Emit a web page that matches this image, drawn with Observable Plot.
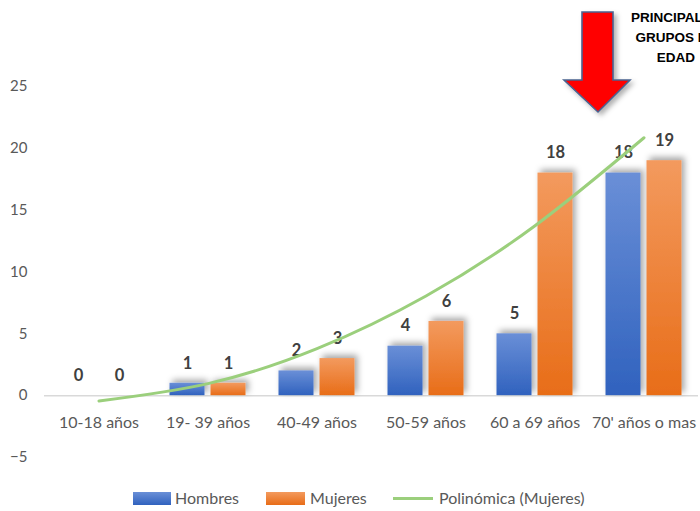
<!DOCTYPE html>
<html>
<head>
<meta charset="utf-8">
<script src="https://cdn.jsdelivr.net/npm/d3@7"></script>
<script src="https://cdn.jsdelivr.net/npm/@observablehq/plot@0.6"></script>
<style>
  body { margin: 0; background: #fff; overflow: hidden; width: 700px; height: 511px; position: relative; font-family: Lato, "Open Sans", sans-serif; }
  #chart { position: absolute; left: 0; top: 0; }
  #flecha { position: absolute; left: 0; top: 0; pointer-events: none; }
  .nota { position: absolute; left: 606px; top: 8px; width: 140px; text-align: center;
          font: bold 13.5px "Liberation Sans", Arial, sans-serif; line-height: 20px; color: #000; }
  .ley { position: absolute; }
  .ley-txt { position: absolute; top: 489px; font-size: 16px; line-height: 18px; color: #595959; white-space: nowrap; }
</style>
</head>
<body>
<div id="chart"></div>

<svg id="flecha" width="700" height="130">
  <defs>
    <filter id="sombraFlecha" x="-30%" y="-30%" width="160%" height="160%">
      <feDropShadow dx="3" dy="3" stdDeviation="2.5" flood-color="#000" flood-opacity="0.3"/>
    </filter>
  </defs>
  <polygon points="582,12 613,12 613,80 630,80 598,112 564,80 582,80"
           fill="#ff0000" stroke="#4a6390" stroke-width="1.6" stroke-linejoin="miter" filter="url(#sombraFlecha)"/>
</svg>
<div class="nota">PRINCIPALES<br>GRUPOS DE<br>EDAD</div>

<div class="ley" style="left:133px; top:492px; width:38px; height:13px; background:linear-gradient(#6a8fd7,#3062be);"></div>
<div class="ley-txt" style="left:175px;">Hombres</div>
<div class="ley" style="left:266px; top:492px; width:39px; height:13px; background:linear-gradient(#f39a5e,#e86d18);"></div>
<div class="ley-txt" style="left:310px;">Mujeres</div>
<div class="ley" style="left:393px; top:497px; width:40px; height:3px; background:#9bcf7c;"></div>
<div class="ley-txt" style="left:439px;">Polinómica (Mujeres)</div>

<script>
// Age groups and number of cases per sex
const categorias = ["10-18 años", "19- 39 años", "40-49 años", "50-59 años", "60 a 69 años", "70' años o mas"];
const hombres = [0, 1, 2, 4, 5, 18];
const mujeres = [0, 1, 3, 6, 18, 19];
const yTicks = [-5, 0, 5, 10, 15, 20, 25];

// Second-order least-squares trendline over the Mujeres series (x = 1..n)
function ajusteCuadratico(ys) {
  const xs = ys.map((_, i) => i + 1);
  const S = k => d3.sum(xs, x => x ** k);
  const T = k => d3.sum(xs, (x, i) => x ** k * ys[i]);
  const A = [[S(0), S(1), S(2)], [S(1), S(2), S(3)], [S(2), S(3), S(4)]];
  const b = [T(0), T(1), T(2)];
  const det = m => m[0][0] * (m[1][1] * m[2][2] - m[1][2] * m[2][1])
                 - m[0][1] * (m[1][0] * m[2][2] - m[1][2] * m[2][0])
                 + m[0][2] * (m[1][0] * m[2][1] - m[1][1] * m[2][0]);
  const D = det(A);
  const coef = [0, 1, 2].map(j => det(A.map((row, i) => row.map((v, k) => (k === j ? b[i] : v)))) / D);
  return x => coef[0] + coef[1] * x + coef[2] * x * x;
}
const tendencia = ajusteCuadratico(mujeres);

const filasH = categorias.map((c, i) => ({categoria: c, valor: hombres[i]}));
const filasM = categorias.map((c, i) => ({categoria: c, valor: mujeres[i]}));
const filasT = categorias.map((c, i) => ({categoria: c, valor: tendencia(i + 1)}));

const etiqueta = {fontWeight: "bold", fontSize: 16.5, fill: "#404040", dy: -20};

const svg = Plot.plot({
  width: 700,
  height: 480,
  marginTop: 86,
  marginBottom: 23,
  marginLeft: 44,
  marginRight: 2,
  style: {fontFamily: "Lato, 'Open Sans', sans-serif", fontSize: "15px", color: "#595959", background: "transparent", overflow: "visible"},
  x: {domain: categorias, padding: 0, axis: null},
  y: {domain: [-5, 25], ticks: yTicks, tickSize: 0, tickPadding: 17, label: null},
  marks: [
    Plot.ruleY([0], {stroke: "#d9d9d9", strokeWidth: 1.5}),
    Plot.barY(filasH, {x: "categoria", y: "valor", fill: "url(#gradHombres)", insetLeft: 16.5, insetRight: 57.5}),
    Plot.barY(filasM, {x: "categoria", y: "valor", fill: "url(#gradMujeres)", insetLeft: 57.5, insetRight: 16.5}),
    Plot.text(filasH, {x: "categoria", y: "valor", text: d => String(d.valor), dx: -20.5, ...etiqueta}),
    Plot.text(filasM, {x: "categoria", y: "valor", text: d => String(d.valor), dx: 20.5, ...etiqueta}),
    Plot.text(categorias, {x: d => d, y: 0, text: d => d, dy: 27, fontSize: 16, fill: "#595959"}),
    Plot.line(filasT, {x: "categoria", y: "valor", stroke: "#9bcf7c", strokeWidth: 3, curve: "natural"})
  ]
});

// gradients and soft shadow for the bars
const defs = d3.select(svg).insert("defs", ":first-child");
[["gradHombres", "#6a8fd7", "#3062be"], ["gradMujeres", "#f39a5e", "#e86d18"]].forEach(([id, c1, c2]) => {
  const g = defs.append("linearGradient").attr("id", id).attr("x1", 0).attr("y1", 0).attr("x2", 0).attr("y2", 1);
  g.append("stop").attr("offset", "0%").attr("stop-color", c1);
  g.append("stop").attr("offset", "100%").attr("stop-color", c2);
});
defs.append("filter").attr("id", "sombraBarra").attr("x", "-40%").attr("y", "-40%").attr("width", "180%").attr("height", "180%")
  .append("feDropShadow").attr("dx", 3).attr("dy", -3).attr("stdDeviation", 3)
  .attr("flood-color", "#000").attr("flood-opacity", 0.35);
d3.select(svg).selectAll("g[aria-label='bar']").attr("filter", "url(#sombraBarra)");

document.getElementById("chart").appendChild(svg);
</script>
</body>
</html>
